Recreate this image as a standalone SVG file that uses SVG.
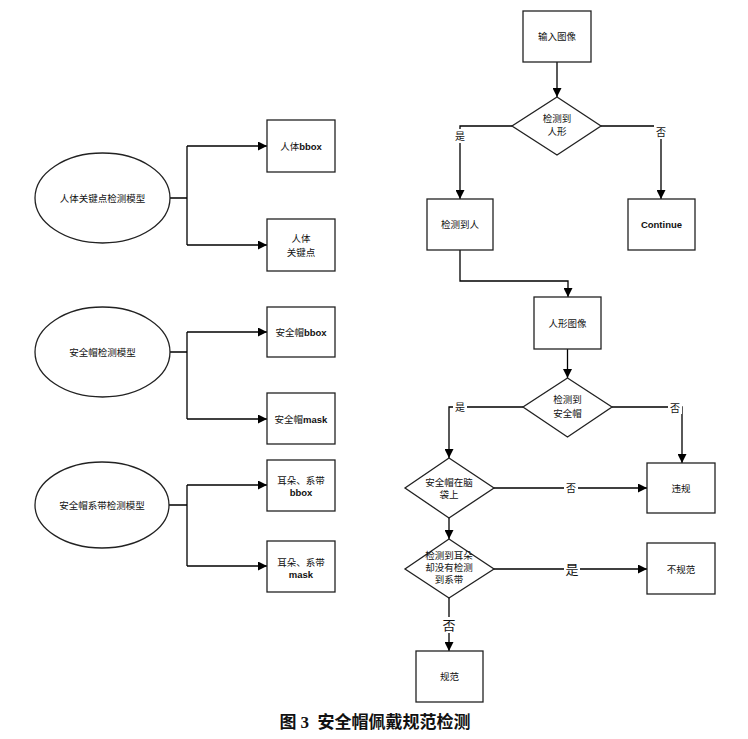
<svg xmlns="http://www.w3.org/2000/svg" width="748" height="739" viewBox="0 0 748 739">
<defs>
<marker id="ah" viewBox="0 0 10 10" refX="10" refY="5" markerWidth="9" markerHeight="9" markerUnits="userSpaceOnUse" orient="auto">
<path d="M0,0 L10,5 L0,10 Z" fill="#000"/>
</marker>
<style>
.n{fill:#fff;stroke:#222;stroke-width:1.3}
.c{fill:none;stroke:#000;stroke-width:1.3}
.a{marker-end:url(#ah)}
text{font-family:"Liberation Sans","Noto Sans CJK SC",sans-serif;font-size:9.5px;fill:#111;text-anchor:middle;dominant-baseline:central}
.b{font-weight:bold}
.lb{font-size:10px}
.lg{font-size:13px}
.cap{font-family:"Liberation Serif","Noto Sans CJK SC",serif;font-size:17px;font-weight:bold}
</style>
</defs>
<rect width="748" height="739" fill="#fff"/>
<g id="connectors">
<path class="c" d="M170,198 H187 M187,146 V245"/>
<path class="c a" d="M187,146 H267"/>
<path class="c a" d="M187,245 H267"/>
<path class="c" d="M170,352 H187 M187,332 V419"/>
<path class="c a" d="M187,332 H267"/>
<path class="c a" d="M187,419 H267"/>
<path class="c" d="M169,505 H187 M187,485 V566"/>
<path class="c a" d="M187,485 H267"/>
<path class="c a" d="M187,566 H267"/>
<path class="c a" d="M557,62 V97"/>
<path class="c a" d="M512,126 H460 V199"/>
<path class="c a" d="M601,126 H661 V199"/>
<path class="c a" d="M460,250 V281 H568 V297"/>
<path class="c a" d="M567.5,349 V378"/>
<path class="c a" d="M523,407 H449 V458"/>
<path class="c a" d="M612,407 H682 V463"/>
<path class="c a" d="M494,488 H647"/>
<path class="c a" d="M449,518 V539"/>
<path class="c a" d="M494,569 H647"/>
<path class="c a" d="M449,598 V651"/>
<rect x="453" y="129" width="14" height="14" fill="#fff"/>
<text class="lb" x="460" y="136">是</text>
<rect x="654" y="125" width="14" height="14" fill="#fff"/>
<text class="lb" x="661" y="132">否</text>
<rect x="453" y="400" width="14" height="14" fill="#fff"/>
<text class="lb" x="460" y="407">是</text>
<rect x="668" y="400" width="14" height="14" fill="#fff"/>
<text class="lb" x="675" y="408">否</text>
<rect x="564" y="481" width="14" height="14" fill="#fff"/>
<text class="lb" x="571" y="488">否</text>
<rect x="564" y="561" width="16" height="16" fill="#fff"/>
<text class="lg" x="572" y="569">是</text>
<rect x="441" y="617" width="16" height="16" fill="#fff"/>
<text class="lg" x="449" y="625">否</text>
</g>
<g id="model1"><ellipse class="n" cx="102.5" cy="198" rx="67.5" ry="45"/><text x="102.5" y="198">人体关键点检测模型</text></g>
<g id="body-bbox"><rect class="n" x="267" y="120" width="68" height="52"/><text x="301" y="146">人体<tspan class="b">bbox</tspan></text></g>
<g id="body-keypoints"><rect class="n" x="267" y="219" width="68" height="52"/><text x="301" y="238">人体</text><text x="301" y="252">关键点</text></g>
<g id="model2"><ellipse class="n" cx="102.5" cy="352" rx="67.5" ry="45"/><text x="102.5" y="352">安全帽检测模型</text></g>
<g id="helmet-bbox"><rect class="n" x="267" y="307" width="68" height="50"/><text x="301" y="332">安全帽<tspan class="b">bbox</tspan></text></g>
<g id="helmet-mask"><rect class="n" x="267" y="393" width="68" height="51"/><text x="301" y="419">安全帽<tspan class="b">mask</tspan></text></g>
<g id="model3"><ellipse class="n" cx="102" cy="505" rx="67" ry="43"/><text x="102" y="505">安全帽系带检测模型</text></g>
<g id="ear-bbox"><rect class="n" x="267" y="460" width="68" height="51"/><text x="301" y="480">耳朵、系带</text><text class="b" x="301" y="492">bbox</text></g>
<g id="ear-mask"><rect class="n" x="267" y="541" width="68" height="51"/><text x="301" y="562">耳朵、系带</text><text class="b" x="301" y="574">mask</text></g>
<g id="input"><rect class="n" x="523" y="11" width="68" height="51"/><text x="557" y="36">输入图像</text></g>
<g id="d-person"><polygon class="n" points="557,97 601,126 557,155 512,126"/><text x="557" y="118">检测到</text><text x="557" y="131">人形</text></g>
<g id="person"><rect class="n" x="427" y="199" width="66" height="51"/><text x="460" y="224">检测到人</text></g>
<g id="continue"><rect class="n" x="628" y="199" width="67" height="51"/><text class="b" x="661.5" y="224">Continue</text></g>
<g id="person-img"><rect class="n" x="534" y="297" width="67" height="52"/><text x="567.5" y="323">人形图像</text></g>
<g id="d-helmet"><polygon class="n" points="567.5,378 612,407 567.5,437 523,407"/><text x="567.5" y="399">检测到</text><text x="567.5" y="413">安全帽</text></g>
<g id="d-onhead"><polygon class="n" points="449,458 494,488 449,518 405,488"/><text x="449" y="482">安全帽在脑</text><text x="449" y="494">袋上</text></g>
<g id="violation"><rect class="n" x="647" y="463" width="68" height="50"/><text x="681" y="488">违规</text></g>
<g id="d-strap"><polygon class="n" points="449,539 494,569 449,598 405,569"/><text x="449" y="555">检测到耳朵</text><text x="449" y="567">却没有检测</text><text x="449" y="579">到系带</text></g>
<g id="nonstandard"><rect class="n" x="647" y="543" width="68" height="51"/><text x="681" y="569">不规范</text></g>
<g id="standard"><rect class="n" x="416" y="651" width="67" height="51"/><text x="449.5" y="676">规范</text></g>
<text class="cap" x="375" y="722" xml:space="preserve">图 3  安全帽佩戴规范检测</text>
</svg>
